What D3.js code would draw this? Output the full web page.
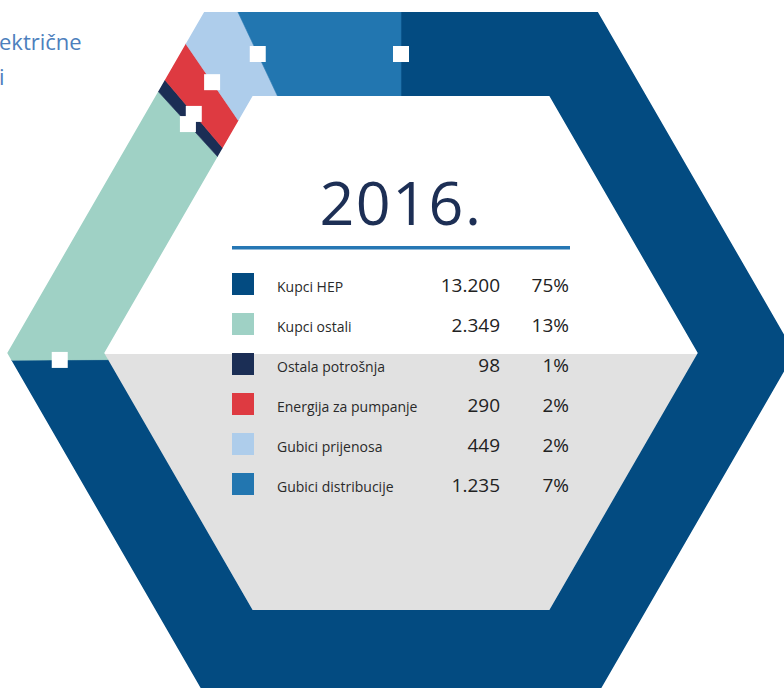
<!DOCTYPE html>
<html>
<head>
<meta charset="utf-8">
<script src="https://cdn.jsdelivr.net/npm/d3@7"></script>
<style>
  html, body { margin: 0; padding: 0; background: #ffffff; }
  svg { display: block; }
</style>
</head>
<body>
<div id="chart"></div>
<script>
// ---- data ----
const categories = ["Kupci HEP", "Kupci ostali", "Ostala potrošnja", "Energija za pumpanje", "Gubici prijenosa", "Gubici distribucije"];
const values = [13200, 2349, 98, 290, 449, 1235];
const percentLabels = ["75%", "13%", "1%", "2%", "2%", "7%"];
const colors = ["#034b81", "#9fd1c5", "#1b2e55", "#de3a41", "#aecdeb", "#2276b0"];
const yearLabel = "2016.";
const titleFragments = ["ektrične", "i"];

// ---- layout ----
const W = 784, H = 688;
const cx = 401, cy = 353;          // hexagon centre
const px = 401, py = 358;          // pie (angle) centre
const outerApothem = 341, innerApothem = 257;
const FONT = "'Open Sans', 'Noto Sans', sans-serif";

const svg = d3.select("#chart").append("svg")
  .attr("width", W).attr("height", H);

const fmt = d3.formatLocale({ decimal: ",", thousands: ".", grouping: [3], currency: ["", ""] }).format(",d");

// hexagon helper (flat top), angles in d3 convention (0 = 12 o'clock, clockwise)
function hexPoints(apothem) {
  const R = apothem / Math.cos(Math.PI / 6);
  return d3.range(6).map(k => {
    const a = (30 + 60 * k) * Math.PI / 180;
    return [cx + R * Math.sin(a), cy - R * Math.cos(a)];
  });
}
function polyPath(pts) { return "M" + pts.map(p => p.join(",")).join("L") + "Z"; }

const outerPts = hexPoints(outerApothem);
const innerPts = hexPoints(innerApothem);

// gray lower half of inner hexagon
const Ri = innerApothem / Math.cos(Math.PI / 6);
svg.append("path")
  .attr("d", polyPath([[cx - Ri, cy + 1], [cx - Ri / 2, cy + innerApothem], [cx + Ri / 2, cy + innerApothem], [cx + Ri, cy + 1]]))
  .attr("fill", "#e1e1e1");

// clip for the hexagonal ring
const defs = svg.append("defs");
defs.append("clipPath").attr("id", "ring")
  .append("path")
  .attr("d", polyPath(outerPts) + polyPath(innerPts))
  .attr("clip-rule", "evenodd");

const pie = d3.pie().sort(null).value(d => d)(values);
const wedge = d3.arc().innerRadius(0).outerRadius(1000);

const ringG = svg.append("g").attr("clip-path", "url(#ring)");
ringG.selectAll("path.slice")
  .data(pie)
  .join("path")
  .attr("class", "slice")
  .attr("transform", `translate(${px},${py})`)
  .attr("d", wedge)
  .attr("fill", (d, i) => colors[i])
  .attr("stroke", (d, i) => colors[i])
  .attr("stroke-width", 0.6);

// ray / polygon intersection distance
function rayHit(pts, ox, oy, dx, dy) {
  let best = Infinity;
  for (let i = 0; i < pts.length; i++) {
    const [x1, y1] = pts[i], [x2, y2] = pts[(i + 1) % pts.length];
    const ex = x2 - x1, ey = y2 - y1;
    const den = dx * ey - dy * ex;
    if (Math.abs(den) < 1e-9) continue;
    const t = ((x1 - ox) * ey - (y1 - oy) * ex) / den;
    const u = ((x1 - ox) * dy - (y1 - oy) * dx) / den;
    if (t > 0 && u >= -1e-9 && u <= 1 + 1e-9) best = Math.min(best, t);
  }
  return best;
}
function midPoint(angle) {
  const dx = Math.sin(angle), dy = -Math.cos(angle);
  const r = (rayHit(outerPts, px, py, dx, dy) + rayHit(innerPts, px, py, dx, dy)) / 2;
  return [px + r * dx, py + r * dy];
}

// white square markers at slice boundaries, mid-ring
const sq = 16;
svg.selectAll("rect.marker")
  .data(pie)
  .join("rect")
  .attr("class", "marker")
  .attr("x", d => midPoint(d.startAngle)[0] - sq / 2)
  .attr("y", d => midPoint(d.startAngle)[1] - sq / 2)
  .attr("width", sq).attr("height", sq)
  .attr("fill", "#ffffff");

// year title
svg.append("text")
  .attr("x", cx).attr("y", 225)
  .attr("text-anchor", "middle")
  .attr("font-family", FONT)
  .attr("font-size", 61)
  .attr("letter-spacing", 1.5)
  .attr("fill", "#1d2f55")
  .text(yearLabel);

svg.append("rect")
  .attr("x", 232).attr("y", 246)
  .attr("width", 338).attr("height", 3.5)
  .attr("fill", "#2677b4");

// legend table
const rowY = d3.scalePoint().domain(categories).range([292, 492]);
const rows = svg.selectAll("g.row")
  .data(categories)
  .join("g")
  .attr("class", "row")
  .attr("transform", d => `translate(0,${rowY(d)})`);

rows.append("rect")
  .attr("x", 232).attr("y", -19)
  .attr("width", 22).attr("height", 22)
  .attr("fill", (d, i) => colors[i]);

rows.append("text")
  .attr("x", 277).attr("y", 0)
  .attr("font-family", FONT)
  .attr("font-size", 14)
  .attr("fill", "#2a2a2a")
  .text(d => d);

rows.append("text")
  .attr("x", 500).attr("y", 0)
  .attr("text-anchor", "end")
  .attr("font-family", FONT)
  .attr("font-size", 19)
  .attr("fill", "#222222")
  .text((d, i) => fmt(values[i]));

rows.append("text")
  .attr("x", 569).attr("y", 0)
  .attr("text-anchor", "end")
  .attr("font-family", FONT)
  .attr("font-size", 19)
  .attr("fill", "#222222")
  .text((d, i) => percentLabels[i]);

// cut-off title fragments at top-left
svg.selectAll("text.frag")
  .data(titleFragments)
  .join("text")
  .attr("class", "frag")
  .attr("x", -1)
  .attr("y", (d, i) => 50 + i * 35)
  .attr("font-family", FONT)
  .attr("font-size", 22)
  .attr("fill", "#4d7fbd")
  .text(d => d);
</script>
</body>
</html>
